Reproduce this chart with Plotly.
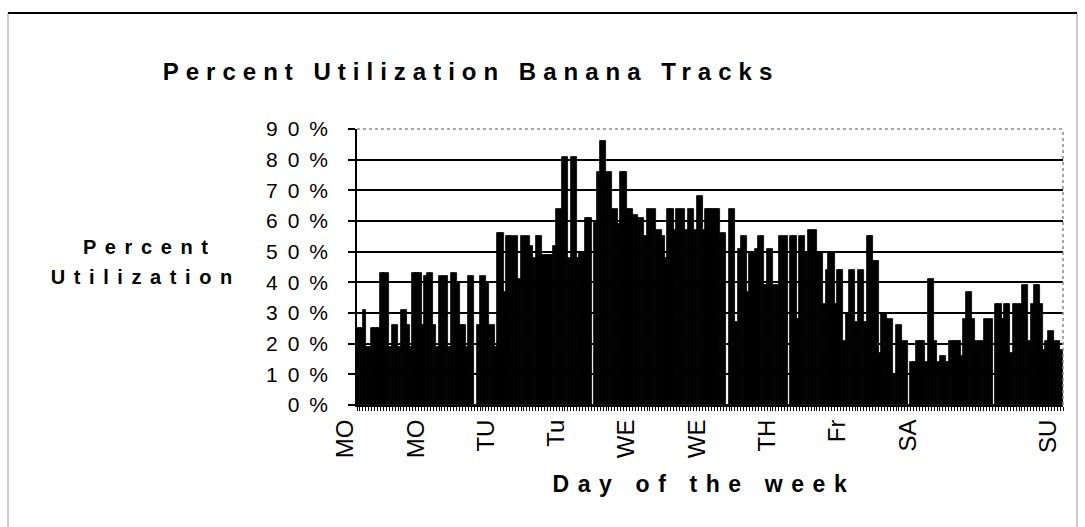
import plotly.graph_objects as go

# Percent utilization per time slot (blocks separated by an empty slot)
block_1 = [25, 25, 31, 19, 19, 25, 25, 25, 43, 43, 43, 19, 26, 26, 19, 31, 31, 26, 19, 43,
           43, 43, 26, 42, 43, 43, 26, 19, 42, 42, 42, 19, 43, 43, 40, 26, 26, 19, 42, 42]
block_2 = [26, 42, 42, 40, 26, 26, 19, 56, 56, 37, 55, 55, 55, 55, 41, 55, 55, 55, 52, 48,
           55, 55, 49, 49, 49, 49, 52, 64, 64, 81, 81, 48, 81, 81, 48, 50, 50, 61, 61]
block_3 = [60, 76, 86, 86, 76, 76, 64, 64, 59, 76, 76, 64, 64, 62, 62, 61, 61, 55, 64, 64,
           64, 57, 57, 55, 48, 64, 64, 57, 64, 64, 64, 57, 64, 64, 57, 68, 68, 57, 64, 64,
           64, 64, 64, 56, 56]
block_4 = [64, 64, 27, 51, 55, 55, 37, 50, 50, 51, 55, 55, 39, 51, 51, 39, 39, 55, 55, 55]
block_5 = [55, 55, 28, 55, 55, 50, 57, 57, 57, 50, 50, 33, 44, 50, 50, 33, 44, 44, 21, 30,
           44, 44, 27, 44, 44, 27, 55, 55, 47, 47, 17, 30, 30, 28, 28, 10, 26, 26, 21, 21]
block_6 = [14, 14, 21, 21, 21, 14, 41, 41, 21, 14, 16, 16, 14, 21, 21, 21, 21, 16, 28, 37,
           37, 28, 21, 21, 21, 28, 28, 28]
block_7 = [33, 33, 28, 33, 33, 17, 33, 33, 33, 39, 39, 21, 33, 39, 39, 33, 18, 21, 24, 24,
           21, 21, 18]
gap_value = 0

day_labels = ["MO", "MO", "TU", "Tu", "WE", "WE", "TH", "Fr", "SA", "", "SU"]
label_every = 24
y_ticks = [0, 10, 20, 30, 40, 50, 60, 70, 80, 90]

blocks = [block_1, block_2, block_3, block_4, block_5, block_6, block_7]
util = []
for i, b in enumerate(blocks):
    if i:
        util.append(gap_value)
    util.extend(b)
slots = list(range(len(util)))
tick_slots = [i * label_every for i in range(len(day_labels))]
y_text = [f"{v}%" for v in y_ticks]

FONT = "Liberation Sans, Arial, Helvetica, sans-serif"

fig = go.Figure(
    go.Bar(
        x=slots, y=util, width=1.12,
        marker=dict(color="black", line=dict(color="black", width=0.8)),
        hoverinfo="skip",
    )
)

W, H = 1085, 527
L, R, T, B = 357, 22, 129, 122
pw, ph = W - L - R, H - T - B

def px(x):
    return (x - L) / pw

def py(y):
    return (H - B - y) / ph

fig.update_layout(
    width=W, height=H,
    margin=dict(l=L, r=R, t=T, b=B, pad=0),
    plot_bgcolor="white", paper_bgcolor="white",
    showlegend=False, bargap=0,
    font=dict(family=FONT, color="black"),
    title=dict(
        text="Percent Utilization Banana Tracks",
        font=dict(family=FONT, size=24, color="black", weight="bold"),
        x=471 / W, xanchor="center", xref="container",
        y=1 - 72 / H, yanchor="middle", yref="container",
    ),
)

fig.update_xaxes(
    range=[-0.5, len(util) - 0.5],
    tickmode="array", tickvals=tick_slots, ticktext=day_labels,
    tickangle=-90, ticks="", tickfont=dict(size=24, family=FONT, color="black"),
    ticklabelshift=-13, ticklabelstandoff=3,
    showgrid=False, zeroline=False,
    showline=True, linecolor="black", linewidth=2,
    minor=dict(ticks="outside", ticklen=4, tickcolor="black", tickwidth=1,
               tick0=-0.5, dtick=1, showgrid=False),
)
fig.update_yaxes(
    range=[0, 90],
    tickmode="array", tickvals=y_ticks, ticktext=y_text,
    ticks="outside", ticklen=7, tickcolor="black", tickwidth=1.5,
    tickfont=dict(size=21, family=FONT, color="black"),
    ticklabelstandoff=6,
    showgrid=True, gridcolor="black", gridwidth=2,
    zeroline=False, showline=True, linecolor="black", linewidth=1.5,
)

# chart frame and plot-area border
fig.add_shape(type="rect", xref="paper", yref="paper",
              x0=px(8), x1=px(1077), y0=py(560), y1=py(13),
              line=dict(color="#9a9a9a", width=1), layer="below")
fig.add_shape(type="line", xref="paper", yref="paper",
              x0=px(8), x1=px(1077), y0=py(13), y1=py(13),
              line=dict(color="black", width=2))
fig.add_shape(type="line", xref="paper", yref="paper",
              x0=0, x1=1, y0=1, y1=1, line=dict(color="#8a8a8a", width=1.5, dash="dot"))
fig.add_shape(type="line", xref="paper", yref="paper",
              x0=1, x1=1, y0=0, y1=1, line=dict(color="#8a8a8a", width=1.5, dash="dot"))

bold = dict(family=FONT, size=20, color="black", weight="bold")
fig.add_annotation(text="Percent", xref="paper", yref="paper", x=px(150), y=py(247),
                   xanchor="center", yanchor="middle", showarrow=False, font=bold)
fig.add_annotation(text="Utilization", xref="paper", yref="paper", x=px(146), y=py(277),
                   xanchor="center", yanchor="middle", showarrow=False, font=bold)
fig.add_annotation(text="Day of the week", xref="paper", yref="paper", x=px(704), y=py(484),
                   xanchor="center", yanchor="middle", showarrow=False,
                   font=dict(family=FONT, size=23, color="black", weight="bold"))

post = """
document.body.style.margin = '0';
document.body.style.padding = '0';
var gd = document.getElementById('{plot_id}');
function sp(sel, v){ gd.querySelectorAll(sel).forEach(function(t){ t.style.letterSpacing = v; }); }
sp('.gtitle', '7px');
sp('.annotation-text', '8.6px');
sp('.ytick text', '10px');
"""
fig.write_html("out.html", post_script=post, config={"displayModeBar": False})
